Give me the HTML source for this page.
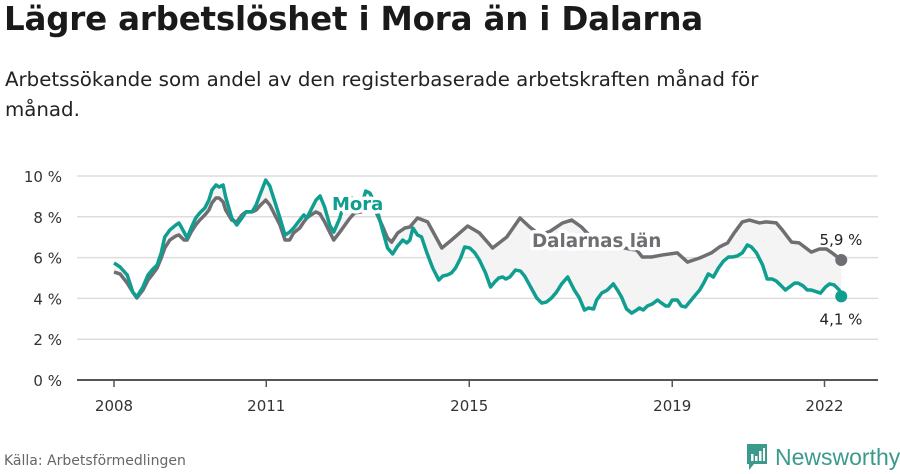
<!DOCTYPE html>
<html><head><meta charset="utf-8">
<style>
body{margin:0;background:#fff;width:900px;height:474px;overflow:hidden;font-family:"DejaVu Sans","Liberation Sans",sans-serif;}
#title{position:absolute;left:4px;top:0px;font-size:32.5px;font-weight:bold;color:#1a1a1a;letter-spacing:-0.2px;white-space:nowrap;}
#sub{position:absolute;left:5px;top:65px;width:790px;font-size:19.8px;line-height:30px;color:#222;}
#src{position:absolute;left:4px;top:453px;font-size:14px;color:#666;}
#logo{position:absolute;left:745px;top:442px;display:flex;align-items:center;}
#logo span{font-family:"Liberation Sans",sans-serif;font-size:23px;color:#3b9a8c;margin-left:6px;}
svg{position:absolute;left:0;top:0;}
</style></head><body>
<div id="title">Lägre arbetslöshet i Mora än i Dalarna</div>
<div id="sub">Arbetssökande som andel av den registerbaserade arbetskraften månad för månad.</div>
<svg id="chart" width="900" height="474"></svg>
<div id="src">Källa: Arbetsförmedlingen</div>
<div id="logo">
<svg style="position:static" width="24" height="30" viewBox="0 0 24 30"><path d="M2 2h20v20H9l-5 6v-6H2z" fill="#3b9a8c"/><rect x="6" y="12" width="2.5" height="7" fill="#fff"/><rect x="10" y="14" width="2.5" height="5" fill="#fff"/><rect x="14" y="9" width="2.5" height="10" fill="#fff"/><rect x="18" y="6" width="2" height="13" fill="#fff"/></svg>
<span>Newsworthy</span></div>
<script>
const yTicks=[0,2,4,6,8,10];
const xTicks=[2008,2011,2015,2019,2022];
const moraDates=[2008.00,2008.12,2008.26,2008.37,2008.45,2008.57,2008.67,2008.75,2008.85,2008.93,2009.00,2009.10,2009.22,2009.28,2009.38,2009.44,2009.52,2009.61,2009.69,2009.79,2009.87,2009.93,2010.01,2010.07,2010.15,2010.20,2010.32,2010.42,2010.52,2010.60,2010.72,2010.80,2010.89,2010.99,2011.07,2011.17,2011.27,2011.37,2011.46,2011.54,2011.66,2011.74,2011.80,2011.88,2011.98,2012.06,2012.15,2012.25,2012.33,2012.45,2012.55,2012.65,2012.74,2012.88,2012.96,2013.04,2013.16,2013.28,2013.39,2013.49,2013.59,2013.69,2013.77,2013.83,2013.89,2013.98,2014.06,2014.16,2014.28,2014.40,2014.48,2014.57,2014.65,2014.73,2014.83,2014.91,2015.01,2015.11,2015.20,2015.32,2015.42,2015.50,2015.58,2015.66,2015.72,2015.80,2015.91,2016.01,2016.09,2016.21,2016.33,2016.43,2016.52,2016.62,2016.72,2016.82,2016.94,2017.00,2017.07,2017.17,2017.27,2017.35,2017.45,2017.51,2017.61,2017.72,2017.84,2017.92,2018.00,2018.10,2018.20,2018.30,2018.35,2018.43,2018.51,2018.61,2018.71,2018.79,2018.87,2018.93,2019.00,2019.10,2019.18,2019.26,2019.34,2019.44,2019.54,2019.63,2019.71,2019.81,2019.91,2020.01,2020.11,2020.19,2020.28,2020.38,2020.48,2020.56,2020.66,2020.78,2020.87,2020.97,2021.05,2021.13,2021.23,2021.31,2021.41,2021.48,2021.58,2021.66,2021.74,2021.86,2021.92,2022.02,2022.10,2022.19,2022.29,2022.33];
const moraValues=[5.74,5.54,5.15,4.31,4.07,4.56,5.15,5.39,5.64,6.23,7.01,7.35,7.60,7.70,7.25,6.96,7.45,7.94,8.19,8.43,8.82,9.31,9.56,9.46,9.56,8.97,7.94,7.60,7.94,8.24,8.24,8.58,9.17,9.80,9.51,8.73,7.94,7.11,7.25,7.45,7.84,8.09,7.94,8.33,8.82,9.02,8.48,7.60,7.25,7.94,8.82,8.97,8.82,8.58,9.26,9.17,8.58,7.45,6.47,6.18,6.57,6.86,6.72,6.86,7.45,7.11,7.01,6.27,5.49,4.90,5.10,5.15,5.25,5.49,5.98,6.52,6.47,6.23,5.88,5.25,4.56,4.80,5.00,5.05,4.95,5.05,5.39,5.34,5.10,4.56,4.02,3.77,3.82,4.02,4.31,4.71,5.05,4.75,4.41,4.02,3.43,3.53,3.48,3.92,4.26,4.41,4.71,4.41,4.07,3.48,3.28,3.43,3.53,3.43,3.63,3.73,3.92,3.77,3.63,3.63,3.92,3.92,3.63,3.58,3.82,4.12,4.41,4.80,5.20,5.05,5.49,5.83,6.03,6.03,6.08,6.23,6.62,6.52,6.23,5.64,4.95,4.95,4.85,4.66,4.41,4.56,4.75,4.75,4.61,4.41,4.41,4.31,4.26,4.56,4.71,4.66,4.41,4.10];
const dalaDates=[2008.00,2008.12,2008.26,2008.37,2008.45,2008.57,2008.67,2008.75,2008.85,2008.93,2009.00,2009.10,2009.22,2009.28,2009.38,2009.44,2009.52,2009.61,2009.69,2009.79,2009.87,2009.93,2010.01,2010.07,2010.15,2010.20,2010.32,2010.42,2010.52,2010.60,2010.72,2010.80,2010.89,2010.99,2011.07,2011.17,2011.27,2011.37,2011.46,2011.54,2011.66,2011.74,2011.80,2011.88,2011.98,2012.06,2012.15,2012.25,2012.33,2012.45,2012.55,2012.65,2012.74,2012.88,2012.96,2013.04,2013.16,2013.28,2013.39,2013.47,2013.59,2013.73,2013.83,2013.98,2014.18,2014.46,2014.65,2014.97,2015.20,2015.46,2015.74,2016.00,2016.19,2016.40,2016.60,2016.84,2017.02,2017.21,2017.40,2017.60,2017.80,2018.00,2018.20,2018.30,2018.41,2018.59,2018.81,2019.10,2019.30,2019.54,2019.77,2019.93,2020.09,2020.22,2020.38,2020.52,2020.72,2020.85,2021.05,2021.17,2021.35,2021.50,2021.74,2021.90,2022.04,2022.15,2022.33];
const dalaValues=[5.29,5.20,4.75,4.31,4.02,4.41,4.90,5.15,5.49,5.98,6.47,6.86,7.06,7.11,6.86,6.86,7.25,7.60,7.84,8.09,8.33,8.68,8.92,8.92,8.73,8.33,7.84,7.75,8.09,8.24,8.24,8.33,8.58,8.82,8.58,8.09,7.60,6.86,6.86,7.21,7.45,7.75,7.94,8.09,8.24,8.14,7.75,7.25,6.86,7.25,7.60,7.94,8.19,8.24,8.43,8.43,8.24,7.60,6.96,6.76,7.21,7.45,7.50,7.94,7.75,6.47,6.86,7.55,7.21,6.47,7.01,7.94,7.50,7.1,7.3,7.70,7.84,7.50,7.0,6.8,6.6,6.5,6.4,6.37,6.03,6.03,6.13,6.23,5.78,5.98,6.23,6.52,6.72,7.21,7.75,7.84,7.70,7.75,7.70,7.35,6.76,6.72,6.27,6.42,6.42,6.23,5.88];

const NS='http://www.w3.org/2000/svg';
const svg=document.getElementById('chart');
const X=y=>114+(y-2008)*50.75;
const Y=v=>380-v*20.4;
function mk(tag,attrs,parent){const e=document.createElementNS(NS,tag);for(const k in attrs)e.setAttribute(k,attrs[k]);(parent||svg).appendChild(e);return e;}
yTicks.forEach(t=>{
  const g=mk('line',{x1:77,x2:878,y1:Y(t),y2:Y(t),stroke:t===0?'#555':'#ddd','stroke-width':t===0?2:1.5});
  
  
  const l=mk('text',{x:62,y:Y(t)+6,'text-anchor':'end','font-size':15,fill:'#333'});
  l.textContent=t+' %';
  
  
});
xTicks.forEach(t=>{
  const tk=mk('line',{x1:X(t),x2:X(t),y1:380,y2:387,stroke:'#555','stroke-width':1.5});
  
  
  const l=mk('text',{x:X(t),y:411,'text-anchor':'middle','font-size':15,fill:'#333'});
  l.textContent=t;
  
  
});
const pd=dalaDates.map((d,i)=>X(d)+','+Y(dalaValues[i]));
const pm=moraDates.map((d,i)=>X(d)+','+Y(moraValues[i]));
const area=mk('polygon',{points:pd.concat(pm.slice().reverse()).join(' '),fill:'#f4f4f4'});


const ld=mk('polyline',{points:pd.join(' '),fill:'none',stroke:'#6f6f73','stroke-width':3.5,'stroke-linejoin':'round'});


const lm=mk('polyline',{points:pm.join(' '),fill:'none',stroke:'#0f9e8f','stroke-width':3.5,'stroke-linejoin':'round'});


const dl=dalaDates.length-1, ml=moraDates.length-1;
const c1=mk('circle',{cx:X(dalaDates[dl]),cy:Y(dalaValues[dl]),r:6,fill:'#6f6f73'});


const c2=mk('circle',{cx:X(moraDates[ml]),cy:Y(moraValues[ml]),r:6,fill:'#0f9e8f'});


const v1=mk('text',{x:841,y:Y(dalaValues[dl])-15,'text-anchor':'middle','font-size':15,fill:'#222'});
v1.textContent=String(dalaValues[dl].toFixed(1)).replace('.',',')+' %';


const v2=mk('text',{x:841,y:Y(moraValues[ml])+28,'text-anchor':'middle','font-size':15,fill:'#222'});
v2.textContent=String(moraValues[ml].toFixed(1)).replace('.',',')+' %';


function label(txt,x,y,col,fs){
  const t=mk('text',{x:x,y:y,'font-size':fs,'font-weight':'bold',fill:col,stroke:'#fff','stroke-width':7,'paint-order':'stroke','stroke-linejoin':'round'});
  t.textContent=txt;
  return t;
}
const lbM=label('Mora',332,210,'#0f9e8f',18);


const lbD=label('Dalarnas län',532,247,'#6f6f73',18.3);


</script>
</body></html>
